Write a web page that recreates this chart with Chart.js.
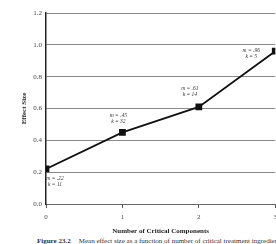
<!DOCTYPE html>
<html>
<head>
<meta charset="utf-8">
<script src="https://cdn.jsdelivr.net/npm/chart.js@4/dist/chart.umd.min.js"></script>
<style>
  html, body { margin: 0; padding: 0; background: #fff; overflow: hidden; }
  #wrap { position: relative; width: 276px; height: 244px; overflow: hidden; }
  #box { position: absolute; left: 0; top: 0; width: 282px; height: 236px; }
  #caption {
    position: absolute; left: 37px; top: 237px; white-space: nowrap;
    font: 7px "Liberation Serif", serif; color: #333;
  }
  #caption b { margin-right: 8px; }
</style>
</head>
<body>
<div id="wrap">
  <div id="box"><canvas id="chart"></canvas></div>
  <div id="caption"><b>Figure 23.2</b>Mean effect size as a function of number of critical treatment ingredients</div>
</div>
<script>
let components = [0, 1, 2, 3];
let effectSize = [0.22, 0.45, 0.61, 0.96];
let mLabels = ['m = .22', 'm = .45', 'm = .61', 'm = .96'];
let kLabels = ['k = 11', 'k = 32', 'k = 14', 'k = 5'];
// where each note sits relative to its point
let noteDx = [9, -4, -9, -24];
let noteDy = [10, -17, -18, -1];

const serif = '"Liberation Serif", "DejaVu Serif", serif';

const notes = {
    id: 'notes',
    afterDatasetsDraw(chart) {
        const ctx = chart.ctx;
        const xs = chart.scales.x, ys = chart.scales.y;
        ctx.save();
        ctx.fillStyle = '#333';
        ctx.font = 'italic 5.5px ' + serif;
        ctx.textAlign = 'center';
        ctx.textBaseline = 'middle';
        for (let i = 0; i < components.length; i++) {
            let px = xs.getPixelForValue(components[i]) + noteDx[i];
            let py = ys.getPixelForValue(effectSize[i]) + noteDy[i];
            ctx.fillText(mLabels[i], px, py);
            ctx.fillText(kLabels[i], px, py + 6);
        }
        ctx.restore();
    }
};

let config = {
    type: 'line',
    data: {
        datasets: [{
            data: components.map((c, i) => ({x: c, y: effectSize[i]})),
            borderColor: '#111',
            backgroundColor: '#111',
            borderWidth: 1.8,
            pointStyle: 'rect',
            pointRadius: 3.5,
            tension: 0
        }]
    },
    options: {
        responsive: true,
        maintainAspectRatio: false,
        animation: false,
        events: [],
        layout: { padding: { top: 13, right: 2, left: 0, bottom: 0 } },
        plugins: { legend: { display: false }, tooltip: { enabled: false } },
        scales: {
            x: {
                type: 'linear',
                min: 0,
                max: 3,
                afterFit(s) { s.height = 32; },
                ticks: { stepSize: 1, padding: 5, color: '#444', font: { family: serif, size: 7 } },
                grid: { drawOnChartArea: false, drawTicks: true, tickLength: 4, color: '#555' },
                border: { color: '#666', width: 1 },
                title: {
                    display: true,
                    text: 'Number of Critical Components',
                    color: '#222',
                    font: { family: serif, size: 7, weight: 'bold' },
                    padding: { top: 0, bottom: 1 }
                }
            },
            y: {
                min: 0,
                max: 1.2,
                afterFit(s) { s.width = 46; },
                ticks: {
                    stepSize: 0.2,
                    padding: 4,
                    color: '#444',
                    font: { family: serif, size: 7 },
                    callback: v => v.toFixed(1)
                },
                grid: { drawTicks: false, color: '#8a8a8a', lineWidth: 1 },
                border: { color: '#222', width: 1.5 },
                title: {
                    display: true,
                    text: 'Effect Size',
                    color: '#222',
                    font: { family: serif, size: 7, weight: 'bold' },
                    padding: { top: 20, bottom: 0 }
                }
            }
        }
    },
    plugins: [notes]
};

new Chart(document.getElementById('chart'), config);
</script>
</body>
</html>
